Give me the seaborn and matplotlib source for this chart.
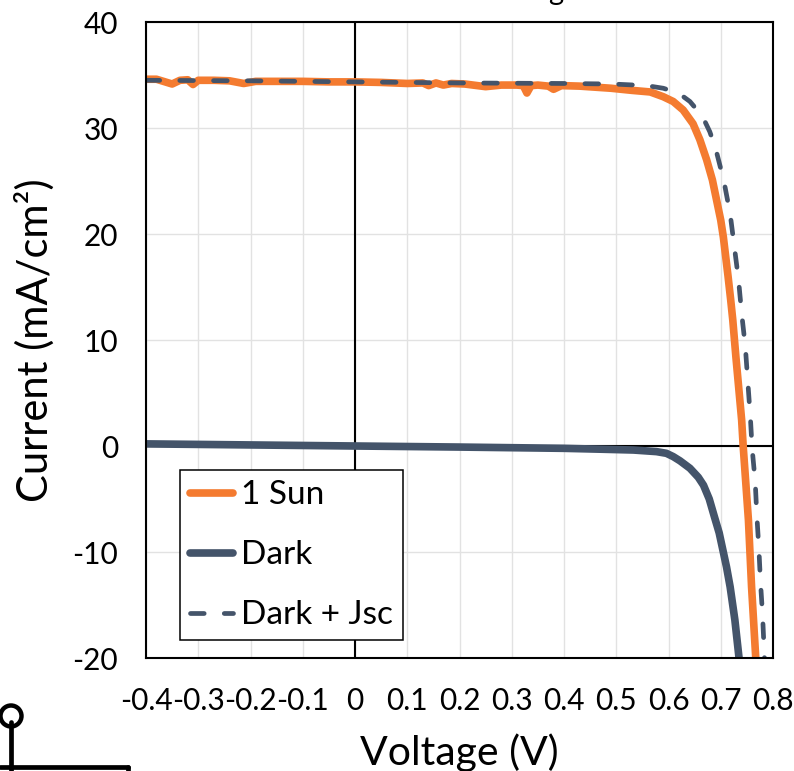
import matplotlib
matplotlib.use("Agg")
import matplotlib.pyplot as plt
import seaborn as sns
from matplotlib.lines import Line2D
from matplotlib.patches import Circle

# curves
v_sun = [-0.40, -0.38, -0.35, -0.335, -0.32, -0.31, -0.30, -0.27, -0.24, -0.213, -0.19, -0.15, -0.10, -0.05, 0.0,
         0.05, 0.10, 0.13, 0.141, 0.155, 0.169, 0.185, 0.21, 0.25, 0.28, 0.31, 0.322, 0.329, 0.337, 0.35, 0.37, 0.38, 0.395,
         0.43, 0.49, 0.53, 0.565, 0.590, 0.609, 0.628, 0.647, 0.660, 0.673, 0.684, 0.692, 0.700, 0.705, 0.714, 0.719, 0.723, 0.729,
         0.740, 0.743, 0.753, 0.759, 0.767, 0.770]
j_sun = [34.6, 34.6, 34.15, 34.5, 34.55, 34.1, 34.5, 34.5, 34.45, 34.2, 34.4, 34.4, 34.4, 34.35, 34.35,
         34.3, 34.2, 34.25, 34.0, 34.25, 34.05, 34.2, 34.15, 33.9, 34.05, 34.05, 34.0, 33.3, 34.0, 34.05, 33.95, 33.65, 34.0,
         33.95, 33.75, 33.55, 33.4, 32.95, 32.5, 31.7, 30.4, 28.9, 27.0, 25.1, 23.2, 21.3, 19.7, 16.0, 13.8, 11.9, 8.4,
         2.45, -0.06, -7.0, -13.3, -20.0, -21.5]

v_dark = [-0.40, -0.20, 0.0, 0.20, 0.40, 0.469, 0.533, 0.577, 0.596, 0.609, 0.622, 0.641, 0.657, 0.667, 0.678, 0.688, 0.697, 0.704,
          0.711, 0.718, 0.727, 0.735, 0.738]
j_dark = [0.2, 0.1, 0.0, -0.1, -0.22, -0.3, -0.38, -0.53, -0.69, -1.0, -1.4, -2.1, -2.95, -3.7, -5.0, -6.7, -8.2, -9.8,
          -11.4, -13.3, -16.4, -20.0, -21.5]

v_sum = [-0.40, -0.20, 0.0, 0.20, 0.40, 0.493, 0.558, 0.590, 0.619, 0.641, 0.665, 0.679, 0.690, 0.706, 0.718, 0.726, 0.734, 0.740,
         0.747, 0.757, 0.760, 0.766, 0.769, 0.773, 0.776, 0.780, 0.783, 0.785]
j_sum = [34.5, 34.45, 34.35, 34.25, 34.2, 34.15, 34.0, 33.75, 33.3, 32.5, 31.1, 29.65, 28.1, 25.0, 21.9, 18.8, 15.7, 12.5,
         9.4, 2.45, -0.2, -3.4, -6.5, -9.7, -12.8, -15.9, -19.2, -21.5]

x_ticks = [-0.4, -0.3, -0.2, -0.1, 0, 0.1, 0.2, 0.3, 0.4, 0.5, 0.6, 0.7, 0.8]
x_labels = ["-0.4", "-0.3", "-0.2", "-0.1", "0", "0.1", "0.2", "0.3", "0.4", "0.5", "0.6", "0.7", "0.8"]
y_ticks = [-20, -10, 0, 10, 20, 30, 40]
y_labels = ["-20", "-10", "0", "10", "20", "30", "40"]

orange = "#F47B30"
navy = "#44546A"

sns.set_style("white")
plt.rcParams["font.family"] = ["Lato", "DejaVu Sans"]
plt.rcParams["axes.unicode_minus"] = False
plt.rcParams["text.color"] = "black"
plt.rcParams["axes.labelcolor"] = "black"
plt.rcParams["xtick.labelcolor"] = "black"
plt.rcParams["ytick.labelcolor"] = "black"

W, H = 794, 771
fig = plt.figure(figsize=(W / 100, H / 100), dpi=100)
ax = fig.add_axes([146 / W, 1 - 658 / H, 627 / W, 636 / H])

ax.set_xlim(-0.4, 0.8)
ax.set_ylim(-20, 40)
ax.grid(True, color="#E2E2E2", lw=1.0)
ax.axhline(0, color="black", lw=1.5, zorder=1.5)
ax.axvline(0, color="black", lw=1.5, zorder=1.5)

sns.lineplot(x=v_sun, y=j_sun, sort=False, estimator=None, color=orange, lw=5.5, label="1 Sun", ax=ax, zorder=3)
sns.lineplot(x=v_dark, y=j_dark, sort=False, estimator=None, color=navy, lw=5.5, label="Dark", ax=ax, zorder=3)
sns.lineplot(x=v_sum, y=j_sum, sort=False, estimator=None, color=navy, lw=3.4, label="Dark + Jsc", ax=ax, zorder=4,
             dashes=False, linestyle=(0, (2.9, 4.25)), dash_capstyle="round")

ax.set_xticks(x_ticks, x_labels)
ax.set_yticks(y_ticks, y_labels)
ax.tick_params(axis="x", length=0, pad=21, labelsize=21.5)
ax.tick_params(axis="y", length=0, pad=20, labelsize=21.5)
ax.set_xlabel("Voltage (V)", fontsize=29.5, labelpad=13)
ax.set_ylabel("Current (mA/cm²)", fontsize=30, labelpad=13)

for s in ax.spines.values():
    s.set_visible(True)
    s.set_color("black")
    s.set_linewidth(1.5)
    s.set_zorder(5)

leg = ax.legend(loc="lower left", bbox_to_anchor=(0.054, 0.028), fontsize=24, fancybox=False, framealpha=1,
                edgecolor="black", borderaxespad=0, handlelength=1.3, labelspacing=0.9, handletextpad=0.24,
                borderpad=0.3)
leg.get_frame().set_linewidth(1.1)
leg.set_zorder(6)

# piece of the circuit sketch cut off at the corner, and the cut title
sketch = dict(color="black", lw=3.4, transform=None)
def px(x, y):
    return (x, H - y)
fig.add_artist(Line2D(*zip(px(11, 722), px(11, 771)), **sketch))
fig.add_artist(Line2D(*zip(px(0, 767), px(128, 767)), **sketch))
fig.add_artist(Line2D(*zip(px(128, 767), px(128, 771)), **sketch))
fig.add_artist(Circle(px(11, 716), 10.5, fc="white", ec="black", lw=3.2, transform=None))
fig.text(556 / W, 1.0, "g", fontsize=21, ha="center", va="baseline", color="black")

fig.savefig("out.png", dpi=100)
